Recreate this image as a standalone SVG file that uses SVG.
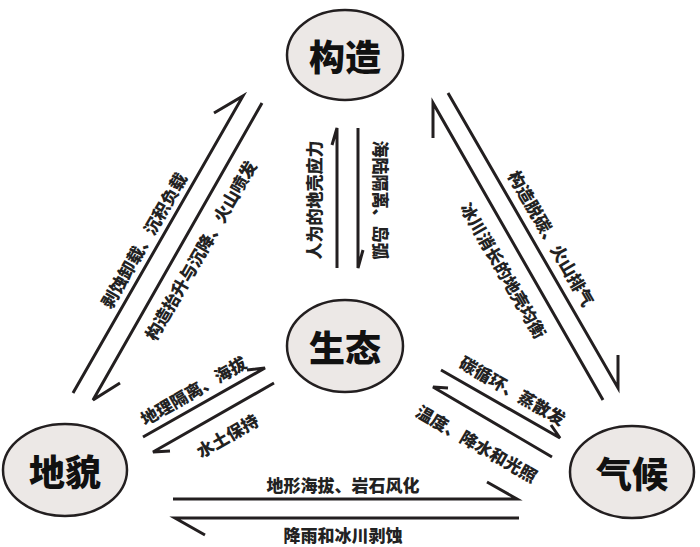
<svg xmlns="http://www.w3.org/2000/svg" width="700" height="547" viewBox="0 0 700 547">
<style>
.n{fill:#ece8e6;stroke:#231f20;stroke-width:2.5}
.nt{font-family:"Noto Sans CJK SC",sans-serif;font-weight:900;font-size:36px;fill:#111;text-anchor:middle;dominant-baseline:central}
.l{font-family:"Noto Sans CJK SC",sans-serif;font-weight:900;font-size:17px;fill:#222;text-anchor:middle;dominant-baseline:central}
.c path{fill:none;stroke:#231f20;stroke-width:3}
</style>
<rect width="700" height="547" fill="#fff"/>
<g id="n-gouzao"><ellipse class="n" cx="345" cy="55" rx="58" ry="45"/><text class="nt" x="345" y="55">构造</text></g>
<g id="n-shengtai"><ellipse class="n" cx="345" cy="346" rx="58" ry="46"/><text class="nt" x="345" y="346">生态</text></g>
<g id="n-dimao"><ellipse class="n" cx="65" cy="470" rx="62" ry="46"/><text class="nt" x="65" y="470">地貌</text></g>
<g id="n-qihou"><ellipse class="n" cx="632" cy="472" rx="62" ry="46"/><text class="nt" x="632" y="472">气候</text></g>
<g class="c" id="connectors">
<path d="M73,393 L243,96 L214,113"/>
<path d="M262,103 L93,400 L120,383"/>
<path d="M337,268 L337,128 L332,145"/>
<path d="M358,128 L358,268 L363,250"/>
<path d="M448,93 L618,388 L618,355"/>
<path d="M603,400 L433,103 L433,138"/>
<path d="M441,370 L560,438 L551,425"/>
<path d="M552,457 L433,387 L448,388"/>
<path d="M143,437 L265,368 L247,370"/>
<path d="M274,383 L153,452 L170,451"/>
<path d="M173,499 L517,499 L487,482"/>
<path d="M519,518 L175,518 L205,535"/>
</g>
<g id="labels">
<text class="l" transform="translate(143,240) rotate(-60)">剥蚀卸载、沉积负载</text>
<text class="l" transform="translate(200,250) rotate(-60)">构造抬升与沉降、火山喷发</text>
<text class="l" transform="translate(313,200) rotate(-90)">人为的地壳应力</text>
<text class="l" transform="translate(381,200) rotate(90)">海陆隔离、岛弧</text>
<text class="l" transform="translate(552,238) rotate(60)">构造脱碳、火山排气</text>
<text class="l" transform="translate(504,270) rotate(60)">冰川消长的地壳均衡</text>
<text class="l" transform="translate(513,390) rotate(30)">碳循环、蒸散发</text>
<text class="l" transform="translate(477,443) rotate(30)">温度、降水和光照</text>
<text class="l" transform="translate(193,390) rotate(-30)">地理隔离、海拔</text>
<text class="l" transform="translate(227,435) rotate(-30)">水土保持</text>
<text class="l" x="343" y="484">地形海拔、岩石风化</text>
<text class="l" x="343" y="534">降雨和冰川剥蚀</text>
</g>
</svg>
